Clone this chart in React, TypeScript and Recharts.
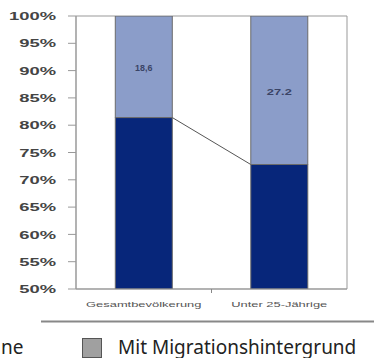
import { BarChart, Bar, XAxis, YAxis, ReferenceArea, LabelList } from 'recharts';

const categories = ['Gesamtbevölkerung', 'Unter 25-Jährige'];
const ohneMigration = [81.4, 72.8];
const mitMigration = [18.6, 27.2];
const mitLabels = ['18,6', '27.2'];
const yTicks = [50, 55, 60, 65, 70, 75, 80, 85, 90, 95, 100];
const legendLabels = ['ne', 'Mit Migrationshintergrund'];

const data = categories.map((name, i) => ({
  name,
  ohne: ohneMigration[i],
  mit: mitMigration[i],
  label: mitLabels[i],
}));

const DARK = '#07267a';
const LIGHT = '#8b9dc9';
const EDGE = '#6a6a6a';
const FONT = '"Liberation Sans", Arial, sans-serif';

// connector from the top of the first dark bar to the top of the next one
let prevTop: { x: number; y: number } | null = null;

const DarkBar = (props: any) => {
  const { x, y, width, height, index } = props;
  let connector = null;
  if (index === 0) {
    prevTop = { x: x + width, y };
  } else if (prevTop) {
    connector = (
      <line x1={prevTop.x} y1={prevTop.y} x2={x} y2={y} stroke="#555" strokeWidth={1} />
    );
  }
  return (
    <g>
      <rect x={x} y={y} width={width} height={height} fill={DARK} stroke={EDGE} strokeWidth={1} />
      {connector}
    </g>
  );
};

const YTick = (props: any) => {
  const { x, y, payload } = props;
  return (
    <text
      transform={`translate(${x},${y}) scale(1.6,1)`}
      textAnchor="end"
      dominantBaseline="central"
      fontSize={11.5}
      fontWeight="bold"
      fontFamily={FONT}
      fill="#444"
    >
      {payload.value}%
    </text>
  );
};

const XTick = (props: any) => {
  const { x, y, payload, index } = props;
  const axisY = y - 6;
  return (
    <g>
      <text
        transform={`translate(${x},${y + 9}) scale(1.72,1)`}
        textAnchor="middle"
        dominantBaseline="central"
        fontSize={7.5}
        fontFamily={FONT}
        fill="#555"
      >
        {payload.value}
      </text>
      {index === 0 && payload.offset ? (
        <line
          x1={x + payload.offset}
          x2={x + payload.offset}
          y1={axisY}
          y2={axisY + 4}
          stroke="#888"
        />
      ) : null}
    </g>
  );
};

const MitLabel = (props: any) => {
  const { x, y, width, height, value, index } = props;
  const size = index === 0 ? 8.5 : 9.5;
  const sx = index === 0 ? 1.05 : 1.35;
  return (
    <text
      transform={`translate(${x + width / 2},${y + height / 2 + 1}) scale(${sx},1)`}
      textAnchor="middle"
      dominantBaseline="central"
      fontSize={size}
      fontWeight="bold"
      fontFamily={FONT}
      fill="#3a4466"
    >
      {value}
    </text>
  );
};

export default function App() {
  return (
    <div style={{ position: 'absolute', left: 0, top: 0, width: 374, height: 358, background: '#fff' }}>
      <BarChart
        width={374}
        height={358}
        data={data}
        barCategoryGap="29%"
        margin={{ top: 16, right: 27, left: 0, bottom: 0 }}
      >
        <XAxis
          dataKey="name"
          height={69}
          stroke="#999"
          tickLine={false}
          tickSize={4}
          tickMargin={2}
          tick={<XTick />}
          interval={0}
        />
        <YAxis
          width={76}
          domain={[50, 100]}
          ticks={yTicks}
          allowDataOverflow
          stroke="#999"
          tickSize={8}
          tickMargin={12}
          tick={<YTick />}
          interval={0}
        />
        <ReferenceArea y1={50} y2={100} fill="none" stroke="#999" strokeWidth={1} ifOverflow="visible" />
        <Bar dataKey="ohne" stackId="a" fill={DARK} shape={<DarkBar />} isAnimationActive={false} />
        <Bar dataKey="mit" stackId="a" fill={LIGHT} stroke={EDGE} strokeWidth={1} isAnimationActive={false}>
          <LabelList dataKey="label" content={<MitLabel />} />
        </Bar>
      </BarChart>
      <svg
        width={374}
        height={358}
        style={{ position: 'absolute', left: 0, top: 0, pointerEvents: 'none' }}
      >
        <line x1={41} x2={374} y1={321.5} y2={321.5} stroke="#888" strokeWidth={2} />
        <text x={1} y={353.5} fontSize={19} fontFamily='"Noto Sans", sans-serif' fill="#222">
          {legendLabels[0]}
        </text>
        <rect x={82.5} y={338.5} width={19} height={19} fill="#a0a0a0" stroke="#555" strokeWidth={1} />
        <text x={118} y={353.5} fontSize={19} fontFamily='"Noto Sans", sans-serif' fill="#222">
          {legendLabels[1]}
        </text>
      </svg>
    </div>
  );
}
